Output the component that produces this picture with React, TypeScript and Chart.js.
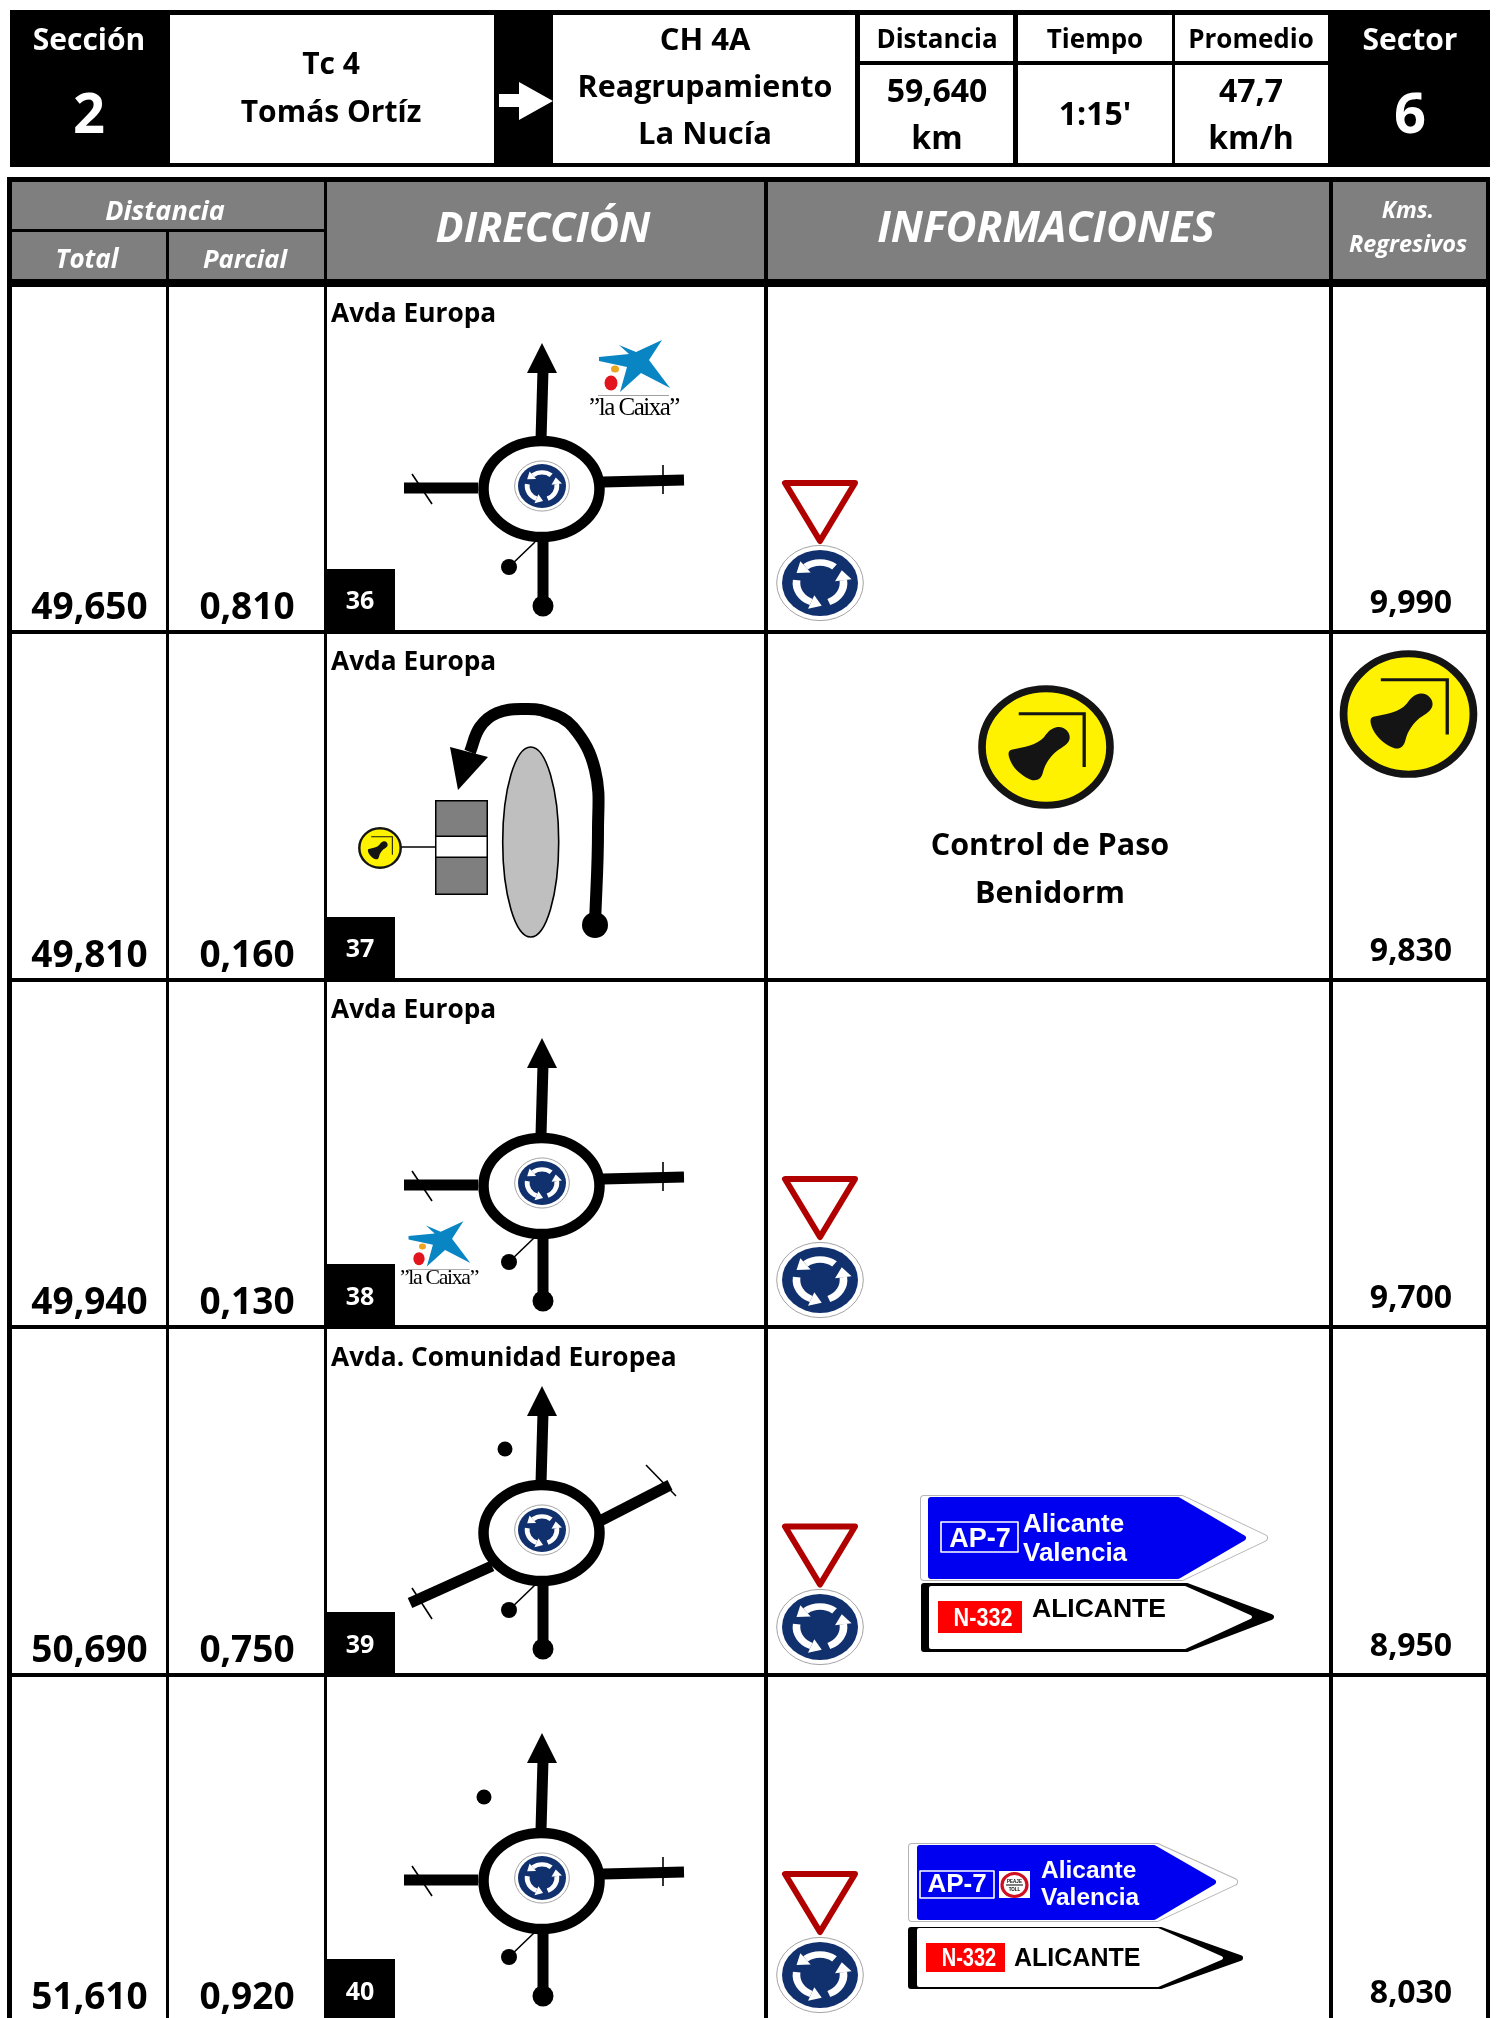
import React, { useEffect, useRef } from "react";
import { Chart, registerables } from "chart.js";

Chart.register(...registerables);

const WIDTH = 1497;
const HEIGHT = 2018;

// Table content
const totalKm = ["49,650", "49,810", "49,940", "50,690", "51,610"];
const partialKm = ["0,810", "0,160", "0,130", "0,750", "0,920"];
const remainingKm = ["9,990", "9,830", "9,700", "8,950", "8,030"];
const noteNumbers = ["36", "37", "38", "39", "40"];
const streets = ["Avda Europa", "Avda Europa", "Avda Europa", "Avda. Comunidad Europea", ""];
const rowOffsets = [0, 348, 695, 1043, 1390];
const ringNudges = [0, 0, 2, 1, 2];

// Column edges [left, right] of the white cells
const columns = [[12, 166], [169, 324], [327, 764], [768, 1329], [1333, 1486]];

// Road diagrams (page coordinates used as the chart's x/y values)
type P = [number, number];
const mainRoads: P[][] = [
  [[541, 440], [543, 370]],
  [[543, 540], [543, 606]],
];
const sideRoads: P[][] = [
  [[404, 488], [478, 488]],
  [[603, 482], [684, 480]],
];
const sideTicks: P[][] = [
  [[412, 474], [432, 504]],
  [[663, 465], [663, 494]],
];
const accessLine: P[] = [[509, 567], [535, 542]];
const diagonalRoads: P[][] = [
  [[598, 479], [670, 442]],
  [[492, 523], [410, 560]],
];
const diagonalTicks: P[][] = [
  [[646, 422], [676, 453]],
  [[412, 545], [432, 576]],
];
const uTurnPath: P[] = [[595, 925], [598, 830], [595, 770], [573, 727], [547, 712], [523, 709], [497, 713], [480, 727], [470, 752]];

function shift(lines: P[][], dy: number): P[][] {
  return lines.map((l) => l.map(([x, y]) => [x, y + dy] as P));
}

function road(points: P[], width: number, tension = 0) {
  return {
    data: points.map(([x, y]) => ({ x, y })),
    showLine: true,
    borderColor: "#000",
    borderWidth: width,
    pointRadius: 0,
    tension,
    clip: false,
  };
}

function dots(points: P[], radius: number) {
  return {
    data: points.map(([x, y]) => ({ x, y })),
    showLine: false,
    backgroundColor: "#000",
    pointBackgroundColor: "#000",
    pointBorderWidth: 0,
    pointRadius: radius,
    clip: false,
  };
}

const datasets: any[] = [];
[0, 2, 3, 4].forEach((row) => {
  const dy = rowOffsets[row];
  const nudge = ringNudges[row];
  shift(mainRoads, dy).forEach((l) => datasets.push(road(l, 11)));
  shift(row === 3 ? diagonalRoads : sideRoads, dy + (row === 3 ? 0 : nudge)).forEach((l) => datasets.push(road(l, 11)));
  shift(row === 3 ? diagonalTicks : sideTicks, dy + (row === 3 ? 0 : nudge)).forEach((l) => datasets.push(road(l, 1.6)));
  datasets.push(road(shift([accessLine], dy)[0], 1.6));
  datasets.push(dots([[543, 606 + dy]], 10.5));
  datasets.push(dots([[509, 567 + dy]], 8));
});
datasets.push(dots([[505, 1449]], 7.5));
datasets.push(dots([[484, 1797]], 7.5));
datasets.push(road(uTurnPath, 12, 0.4));
datasets.push(dots([[595, 925]], 13));
datasets.push(road([[401, 847], [435, 847]], 1.6));

const BODY = '"Open Sans"';
const SIGN = '"Liberation Sans"';

function draw(chart: any, stage: "table" | "top") {
  const ctx: CanvasRenderingContext2D = chart.ctx;
  const sx = (v: number) => chart.scales.x.getPixelForValue(v);
  const sy = (v: number) => chart.scales.y.getPixelForValue(v);

  const rect = (x0: number, y0: number, x1: number, y1: number, color: string) => {
    ctx.fillStyle = color;
    ctx.fillRect(sx(x0), sy(y0), sx(x1) - sx(x0), sy(y1) - sy(y0));
  };
  const text = (s: string, x: number, y: number, size: number, o: { color?: string; italic?: boolean; align?: CanvasTextAlign; family?: string; weight?: string; squeeze?: number } = {}) => {
    ctx.font = `${o.italic ? "italic " : ""}${o.weight ?? "bold"} ${size}px ${o.family ?? BODY}, sans-serif`;
    ctx.fillStyle = o.color ?? "#000";
    ctx.textAlign = o.align ?? "center";
    ctx.textBaseline = "alphabetic";
    if (o.squeeze) {
      ctx.save();
      ctx.translate(sx(x), sy(y));
      ctx.scale(o.squeeze, 1);
      ctx.fillText(s, 0, 0);
      ctx.restore();
    } else {
      ctx.fillText(s, sx(x), sy(y));
    }
  };
  const poly = (pts: P[], fill: string, stroke?: string, lw = 1) => {
    ctx.beginPath();
    pts.forEach(([x, y], i) => (i ? ctx.lineTo(sx(x), sy(y)) : ctx.moveTo(sx(x), sy(y))));
    ctx.closePath();
    ctx.fillStyle = fill;
    ctx.fill();
    if (stroke) {
      ctx.strokeStyle = stroke;
      ctx.lineWidth = lw;
      ctx.lineJoin = "round";
      ctx.stroke();
    }
  };
  const rounded = (pts: P[], color: string, lw: number) => poly(pts, color, color, lw);
  const ellipse = (cx: number, cy: number, rx: number, ry: number, fill: string | null, stroke?: string, lw = 1) => {
    ctx.beginPath();
    ctx.ellipse(sx(cx), sy(cy), rx, ry, 0, 0, Math.PI * 2);
    if (fill) {
      ctx.fillStyle = fill;
      ctx.fill();
    }
    if (stroke) {
      ctx.strokeStyle = stroke;
      ctx.lineWidth = lw;
      ctx.stroke();
    }
  };

  const roundaboutSign = (cx: number, cy: number, rx: number, ry: number) => {
    ellipse(cx, cy, rx * 1.14, ry * 1.14, "#fff", "#a5a5a5", 1);
    ellipse(cx, cy, rx, ry, "#11306e");
    ctx.save();
    ctx.translate(sx(cx), sy(cy));
    ctx.scale(rx, ry);
    [-90, 150, 30].forEach((deg) => {
      const a = (deg * Math.PI) / 180;
      const span = (38 * Math.PI) / 180;
      ctx.beginPath();
      ctx.arc(0, 0, 0.62, a + span, a - span, true);
      ctx.strokeStyle = "#fff";
      ctx.lineWidth = 0.2;
      ctx.stroke();
      const t = a - span;
      const n = [Math.cos(t), Math.sin(t)];
      const d = [Math.sin(t), -Math.cos(t)];
      const p = [0.62 * n[0], 0.62 * n[1]];
      ctx.beginPath();
      ctx.moveTo(p[0] + n[0] * 0.22, p[1] + n[1] * 0.22);
      ctx.lineTo(p[0] - n[0] * 0.22, p[1] - n[1] * 0.22);
      ctx.lineTo(p[0] + d[0] * 0.3, p[1] + d[1] * 0.3);
      ctx.closePath();
      ctx.fillStyle = "#fff";
      ctx.fill();
    });
    ctx.restore();
  };

  const bellSign = (cx: number, cy: number, rx: number, ry: number) => {
    ctx.save();
    ctx.translate(sx(cx), sy(cy));
    ctx.scale(rx / 187, ry / 187);
    ctx.beginPath();
    ctx.arc(0, 0, 176, 0, Math.PI * 2);
    ctx.fillStyle = "#fff200";
    ctx.fill();
    ctx.lineWidth = 21;
    ctx.strokeStyle = "#141414";
    ctx.stroke();
    ctx.beginPath();
    ctx.moveTo(-75, -100);
    ctx.lineTo(105, -100);
    ctx.lineTo(105, 60);
    ctx.lineWidth = 9;
    ctx.lineJoin = "miter";
    ctx.stroke();
    ctx.beginPath();
    ctx.moveTo(-95, 8);
    ctx.bezierCurveTo(-60, 0, -25, -5, -5, -30);
    ctx.bezierCurveTo(5, -45, 15, -58, 32, -60);
    ctx.bezierCurveTo(52, -62, 68, -42, 65, -25);
    ctx.bezierCurveTo(62, -8, 45, 0, 30, 12);
    ctx.bezierCurveTo(12, 28, -2, 50, -8, 75);
    ctx.bezierCurveTo(-12, 95, -22, 103, -38, 100);
    ctx.bezierCurveTo(-60, 92, -85, 70, -95, 48);
    ctx.bezierCurveTo(-103, 30, -108, 12, -95, 8);
    ctx.closePath();
    ctx.fillStyle = "#141414";
    ctx.fill();
    ctx.restore();
  };

  const caixa = (ax: number, ay: number, s: number, textDy: number) => {
    const star: P[] = [[-35, -8], [-5, -11], [-15, -20], [2, -13], [28, -25], [15, -5], [36, 23], [7, 8], [-14, 27], [-7, 2], [-35, -4]];
    poly(star.map(([x, y]) => [ax + x * s, ay + y * s] as P), "#0a85c4");
    ellipse(ax - 19 * s, ay + 4 * s, 4 * s, 3.5 * s, "#eba520");
    ellipse(ax - 23 * s, ay + 18 * s, 6.5 * s, 7.5 * s, "#e2151f");
    rect(ax - 36 * s, ay + 30 * s, ax + 35 * s, ay + 30.7 * s, "#777");
    ctx.save();
    (ctx as any).letterSpacing = `${-1.5 * s}px`;
    text("”la Caixa”", ax, ay + textDy * s, 25 * s, { family: '"Liberation Serif"', weight: "normal" });
    ctx.restore();
  };

  if (stage === "table") {
    // Title block
    rect(10, 10, 1490, 167, "#000");
    rect(170, 15, 494, 163, "#fff");
    rect(553, 15, 855, 163, "#fff");
    rect(860, 15, 1013, 61, "#fff");
    rect(860, 65, 1013, 163, "#fff");
    rect(1018, 15, 1172, 61, "#fff");
    rect(1018, 65, 1172, 163, "#fff");
    rect(1175, 15, 1328, 61, "#fff");
    rect(1175, 65, 1328, 163, "#fff");

    // Table frame
    rect(7, 177, 1490, HEIGHT, "#000");
    const grey = "#7f7f7f";
    rect(12, 182, 324, 229, grey);
    rect(12, 232, 166, 279, grey);
    rect(169, 232, 324, 279, grey);
    rect(327, 182, 764, 279, grey);
    rect(768, 182, 1329, 279, grey);
    rect(1333, 182, 1486, 279, grey);

    // Row cells
    rowOffsets.forEach((dy, i) => {
      const top = i === 0 ? 287 : 634 + rowOffsets[i - 1];
      const bottom = i === rowOffsets.length - 1 ? HEIGHT : 630 + dy;
      columns.forEach(([l, r]) => rect(l, top, r, bottom, "#fff"));
    });
    return;
  }

  // Title block text
  text("Sección", 89, 50, 30, { color: "#fff" });
  text("2", 89, 133, 56, { color: "#fff" });
  text("Tc 4", 331, 74, 30);
  text("Tomás Ortíz", 331, 122, 30);
  text("CH 4A", 705, 50, 31);
  text("Reagrupamiento", 705, 97, 30.5);
  text("La Nucía", 705, 144, 31);
  poly([[499, 94], [519, 94], [519, 82], [553, 101], [519, 120], [519, 107], [499, 107]], "#fff");
  text("Distancia", 937, 48, 26);
  text("Tiempo", 1095, 48, 26);
  text("Promedio", 1251, 48, 26);
  text("59,640", 937, 102, 32);
  text("km", 937, 149, 32);
  text("1:15'", 1095, 125, 32);
  text("47,7", 1251, 102, 32);
  text("km/h", 1251, 149, 32);
  text("Sector", 1410, 50, 30, { color: "#fff" });
  text("6", 1410, 133, 56, { color: "#fff" });

  // Table header text
  const hw = { color: "#fff", italic: true };
  text("Distancia", 165, 220, 27, hw);
  text("Total", 87, 268, 26, hw);
  text("Parcial", 245, 268, 25.5, hw);
  text("DIRECCIÓN", 543, 242, 41.5, hw);
  text("INFORMACIONES", 1046, 242, 42.5, hw);
  text("Kms.", 1408, 218, 23, hw);
  text("Regresivos", 1408, 252, 23.5, hw);

  // Rows
  rowOffsets.forEach((dy, i) => {
    const n = ringNudges[i];
    text(totalKm[i], 89.5, 619 + dy, 37);
    text(partialKm[i], 247, 619 + dy, 37);
    text(remainingKm[i], 1411, 613 + dy, 32);
    if (streets[i]) text(streets[i], 331, 321.5 + dy + (i >= 2 ? 1 : 0), 26.3, { align: "left" });
    rect(327, 569 + dy, 395, 630 + dy, "#000");
    text(noteNumbers[i], 360, 609 + dy + (i >= 2 ? 1 : 0), 25, { color: "#fff" });

    if (i !== 1) {
      // Roundabout ring, centre sign and arrowhead
      ellipse(541.5, 489 + dy + n, 58, 48, "#fff", "#000", 10.5);
      roundaboutSign(542, 486 + dy + n, 24, 22);
      poly([[527, 373 + dy], [557, 373 + dy], [542, 343 + dy]], "#000");

      // Give way + roundabout signs
      poly([[785, 483 + dy + n / 2], [855, 483 + dy + n / 2], [820, 541 + dy + n / 2]], "#fff", "#b00000", 6);
      roundaboutSign(820, 583 + dy + n, 38, 33);
    }
  });

  // Row 2 details
  poly([[450, 747], [488, 757], [458, 790]], "#000");
  ellipse(530.7, 842, 28, 95, "#bfbfbf", "#000", 1.6);
  rect(435, 800, 488, 895, "#000");
  rect(436.5, 801.5, 486.5, 893.5, "#7f7f7f");
  rect(435, 835.5, 488, 858, "#000");
  rect(436.5, 837, 486.5, 856.5, "#fff");
  bellSign(380, 848, 22, 21);
  bellSign(1046, 747, 68, 62);
  bellSign(1408.5, 714, 69, 64);
  text("Control de Paso", 1050, 855, 30.5);
  text("Benidorm", 1050, 903, 30.5);

  caixa(634, 365, 1, 50);
  caixa(439, 1243, 0.87, 47);

  // Row 4 road signs
  const outlineRow4: P[] = [[924, 1499], [1182, 1499], [1264, 1538], [1182, 1577], [924, 1577]];
  rounded(outlineRow4, "#b5b5b5", 8);
  rounded(outlineRow4, "#fff", 6);
  rounded([[931, 1500], [1178, 1500], [1243, 1538], [1178, 1576], [931, 1576]], "#0000f0", 6);
  ctx.strokeStyle = "#fff";
  ctx.lineWidth = 1.6;
  ctx.strokeRect(sx(941), sy(1522), 77, 30);
  text("AP-7", 980, 1547, 27, { color: "#fff", family: SIGN });
  text("Alicante", 1023, 1532, 26, { color: "#fff", family: SIGN, align: "left" });
  text("Valencia", 1023, 1561, 26, { color: "#fff", family: SIGN, align: "left" });
  rounded([[924, 1586], [1187, 1586], [1271, 1617], [1187, 1649], [924, 1649]], "#000", 6);
  rounded([[931, 1588], [1185, 1588], [1250, 1617], [1185, 1647], [931, 1647]], "#fff", 4);
  rect(938, 1601, 1022, 1633, "#ff0000");
  text("N-332", 983, 1626, 26, { color: "#fff", family: SIGN, squeeze: 0.83 });
  text("ALICANTE", 1032, 1617, 26.5, { family: SIGN, align: "left" });

  // Row 5 road signs
  const outlineRow5: P[] = [[912, 1847], [1157, 1847], [1234, 1882], [1157, 1918], [912, 1918]];
  rounded(outlineRow5, "#b5b5b5", 8);
  rounded(outlineRow5, "#fff", 6);
  rounded([[920, 1848], [1154, 1848], [1213, 1882], [1154, 1917], [920, 1917]], "#0000f0", 6);
  ctx.strokeStyle = "#fff";
  ctx.lineWidth = 1.6;
  ctx.strokeRect(sx(920), sy(1871), 74, 27);
  text("AP-7", 957, 1892, 26, { color: "#fff", family: SIGN });
  rect(999, 1871, 1030, 1898, "#fff");
  ellipse(1014.5, 1885, 12.5, 11.5, "#fff", "#d01020", 3.2);
  rect(1006, 1884.5, 1023, 1885.5, "#000");
  text("PEAJE", 1014.5, 1883, 4.5, { family: SIGN });
  text("TOLL", 1014.5, 1891, 4.5, { family: SIGN });
  text("Alicante", 1041, 1878, 24.5, { color: "#fff", family: SIGN, align: "left" });
  text("Valencia", 1041, 1905, 24.5, { color: "#fff", family: SIGN, align: "left" });
  rounded([[911, 1930], [1161, 1930], [1240, 1958], [1161, 1986], [911, 1986]], "#000", 6);
  rounded([[919, 1930], [1158, 1930], [1221, 1958], [1158, 1985], [919, 1985]], "#fff", 4);
  rect(926, 1943, 1005, 1972, "#ff0000");
  text("N-332", 969, 1966, 25, { color: "#fff", family: SIGN, squeeze: 0.8 });
  text("ALICANTE", 1014, 1966, 25, { family: SIGN, align: "left" });
}

const roadbookPlugin = {
  id: "roadbook",
  beforeDatasetsDraw(chart: any) {
    draw(chart, "table");
  },
  afterDatasetsDraw(chart: any) {
    draw(chart, "top");
  },
};

export default function App() {
  const ref = useRef<HTMLCanvasElement>(null);
  useEffect(() => {
    const chart = new Chart(ref.current as HTMLCanvasElement, {
      type: "scatter",
      data: { datasets },
      plugins: [roadbookPlugin],
      options: {
        animation: false,
        responsive: false,
        events: [],
        layout: { padding: 0, autoPadding: false },
        plugins: { legend: { display: false }, tooltip: { enabled: false } },
        scales: {
          x: { type: "linear", display: false, min: 0, max: WIDTH },
          y: { type: "linear", display: false, min: 0, max: HEIGHT, reverse: true },
        },
      },
    } as any);
    return () => chart.destroy();
  }, []);
  return (
    <canvas
      ref={ref}
      width={WIDTH}
      height={HEIGHT}
      style={{ position: "absolute", left: 0, top: 0, width: WIDTH, height: HEIGHT, display: "block" }}
    />
  );
}
